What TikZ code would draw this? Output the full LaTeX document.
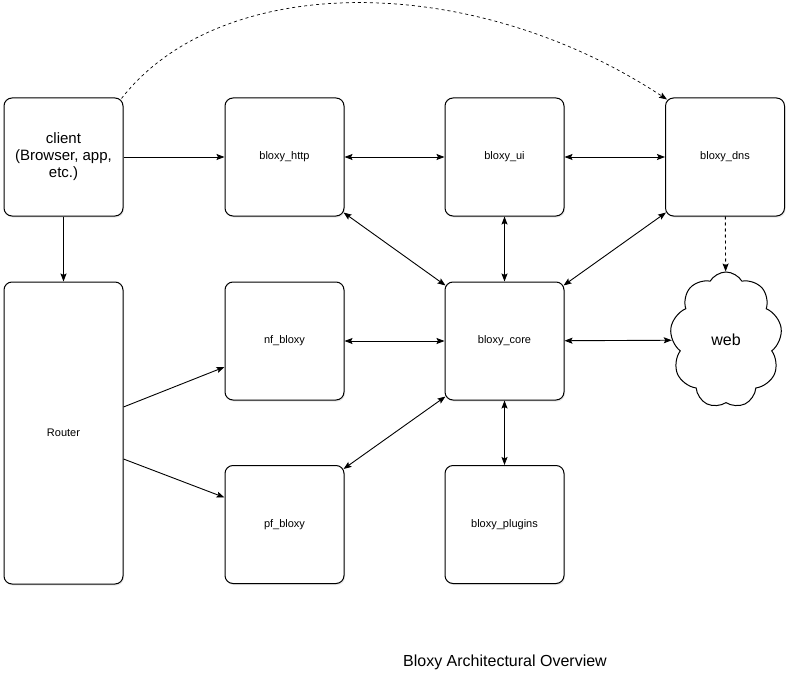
\documentclass[tikz,border=0pt]{standalone}
\usepackage{fontspec}
\setmainfont{Liberation Sans}
\usetikzlibrary{arrows.meta,shapes.symbols,shadows}

\tikzset{
  box/.style={draw,line width=1pt,rounded corners=8pt,fill=white,
    minimum width=119pt,minimum height=118pt,
    drop shadow={opacity=0.18,shadow xshift=1pt,shadow yshift=-1.5pt},
    font=\fontsize{11}{13}\selectfont},
  link/.style={line width=0.9pt,>={Stealth[length=8pt,width=6pt,inset=1.5pt]}}
}

\begin{document}
\begin{tikzpicture}[x=1pt,y=-1pt]
\useasboundingbox (0,0) rectangle (789,679);
\node[box,font=\fontsize{15}{17}\selectfont,align=center] (client) at (63.5,157) {client\\(Browser, app,\\etc.)};
\node[box] (http) at (284.5,157) {bloxy\_http};
\node[box] (ui) at (504.5,157) {bloxy\_ui};
\node[box] (dns) at (725,157) {bloxy\_dns};
\node[box,minimum height=302pt] (router) at (63.5,433) {Router};
\node[box] (nf) at (284.5,341) {nf\_bloxy};
\node[box] (core) at (504.5,341) {bloxy\_core};
\node[box] (pf) at (284.5,524.5) {pf\_bloxy};
\node[box] (plugins) at (504.5,524.5) {bloxy\_plugins};
\node[cloud,cloud puffs=9,cloud puff arc=120,cloud ignores aspect,draw,line width=1pt,fill=white,
  minimum width=112pt,minimum height=136pt,font=\fontsize{16}{18}\selectfont] (web) at (726,340) {web};
\node[font=\fontsize{16}{18}\selectfont] (title) at (505,662) {Bloxy Architectural Overview};
% links
\draw[link,->] (client) -- (http);
\draw[link,->] (client) -- (router);
\draw[link,<->] (http) -- (ui);
\draw[link,<->] (ui) -- (dns);
\draw[link,<->] (ui) -- (core);
\draw[link,<->] (nf) -- (core);
\draw[link,<->] (core) -- (web);
\draw[link,<->] (core) -- (plugins);
\draw[link,<->] ([shift={(-1pt,4pt)}]http.south east) -- ([shift={(1pt,-4pt)}]core.north west);
\draw[link,<->] ([shift={(1pt,4pt)}]dns.south west) -- ([shift={(-1pt,-4pt)}]core.north east);
\draw[link,<->] ([shift={(-1pt,-4pt)}]pf.north east) -- ([shift={(1pt,4pt)}]core.south west);
\draw[link,->] ([yshift=26pt]router.east) -- ([yshift=-26pt]nf.west);
\draw[link,->] ([yshift=-26pt]router.east) -- ([yshift=27pt]pf.west);
\draw[link,->,dashed] (dns) -- (web);
\draw[link,->,dashed,line width=0.7pt] ([shift={(-2pt,-1pt)}]client.north east) .. controls (220,-28) and (470,-30) .. ([shift={(2pt,-2pt)}]dns.north west);
\end{tikzpicture}
\end{document}
